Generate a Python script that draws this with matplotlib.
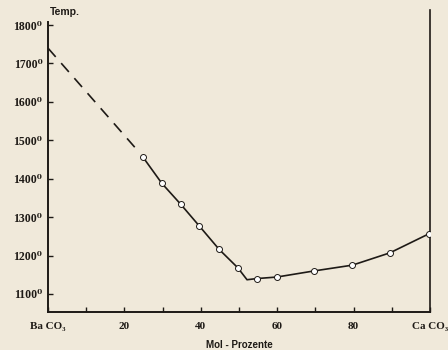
import matplotlib.pyplot as plt

# Schmelzkurve BaCO3 - CaCO3
dash_x = [0, 23.5]
dash_y = [1740, 1473]

line_x = [24.8, 29.8, 34.7, 39.6, 44.8, 49.7, 52.1, 54.6, 59.9, 69.7, 79.7, 89.5, 99.8]
line_y = [1457, 1388, 1334, 1277, 1216, 1168, 1137, 1140, 1144, 1160, 1175, 1207, 1257]

pts_x = [24.8, 29.8, 34.7, 39.6, 44.8, 49.7, 54.6, 59.9, 69.7, 79.7, 89.5, 99.8]
pts_y = [1457, 1388, 1334, 1277, 1216, 1168, 1140, 1144, 1160, 1175, 1207, 1257]

y_ticks = [1100, 1200, 1300, 1400, 1500, 1600, 1700, 1800]
y_labels = [f"{t}\u2070" for t in y_ticks]
x_ticks = [0, 10, 20, 30, 40, 50, 60, 70, 80, 90, 100]
x_labels = ["Ba CO\u2083", "", "20", "", "40", "", "60", "", "80", "", "Ca CO\u2083"]

bg = "#f0e9da"
ink = "#1e1a16"
serif = ["Liberation Serif", "DejaVu Serif"]
sans = ["Liberation Sans", "DejaVu Sans"]

fig = plt.figure(figsize=(4.48, 3.5), dpi=100, facecolor=bg)
ax = fig.add_axes([48 / 448, 1 - 312 / 350, (430 - 48) / 448, 290 / 350])
ax.set_facecolor(bg)

ax.plot(dash_x, dash_y, color=ink, lw=1.2, dashes=(7, 5))
ax.plot(line_x, line_y, color=ink, lw=1.2)
ax.plot(pts_x, pts_y, "o", ms=4.3, mfc="white", mec=ink, mew=0.7, zorder=3)

ax.set_xlim(0, 100)
ax.set_ylim(1053, 1808)

# rechte Begrenzung (CaCO3) reicht über den Rahmen hinaus
ax.plot([100, 100], [1053, 1840], color=ink, lw=1.2, clip_on=False)

for s in ["top", "right"]:
    ax.spines[s].set_visible(False)
for s in ["left", "bottom"]:
    ax.spines[s].set_color(ink)
    ax.spines[s].set_linewidth(1.4)

ax.set_yticks(y_ticks)
ax.set_yticklabels(y_labels, family=serif, fontsize=8.5, fontweight="bold", color=ink)
ax.set_xticks(x_ticks)
ax.set_xticklabels(x_labels, family=serif, fontsize=8, fontweight="bold", color=ink)
ax.tick_params(axis="y", direction="in", length=3.5, width=1, color=ink, pad=4)
ax.tick_params(axis="x", direction="in", length=3.5, width=1, color=ink, pad=7)

ax.text(4.5, 1834, "Temp.", fontsize=7.5, fontweight="bold", color=ink,
        ha="center", va="center", family=sans)
ax.set_xlabel("Mol - Prozente", fontsize=7, fontweight="bold", color=ink,
              family=sans, labelpad=7)

fig.savefig("out.png", dpi=100, facecolor=bg)
